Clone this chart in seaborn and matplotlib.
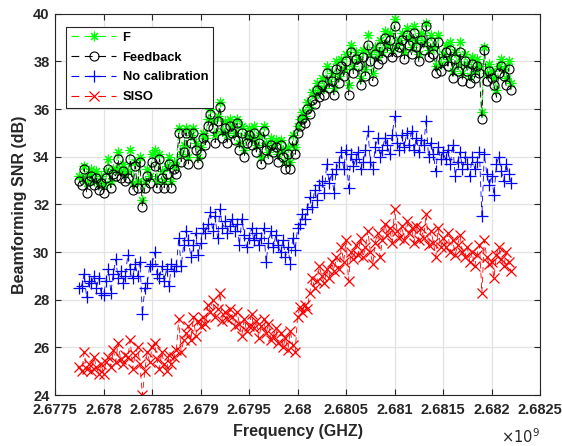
import numpy as np
import pandas as pd
import matplotlib
matplotlib.use("Agg")
import matplotlib.pyplot as plt
from matplotlib.ticker import FuncFormatter
from matplotlib.lines import Line2D
import seaborn as sns

# Frequency grid (Hz): 179 samples, 25 kHz spacing
freq = np.linspace(2.67775e9, 2.6822e9, 179)

f_series = [
    33.2, 33.1, 33.6, 32.9, 33.3, 33.5, 33.0, 33.4, 32.9, 33.2,
    32.8, 33.4, 33.9, 33.0, 33.5, 33.5, 34.2, 33.4, 33.7, 33.3,
    33.4, 34.3, 32.9, 33.8, 33.0, 34.0, 32.2, 33.0, 33.5, 33.2,
    34.1, 34.3, 33.0, 34.1, 33.4, 33.0, 33.6, 34.0, 33.0, 33.8,
    33.6, 35.2, 34.1, 34.5, 35.2, 34.0, 34.9, 35.2, 34.6, 34.0,
    34.4, 35.0, 34.8, 35.6, 36.0, 35.5, 34.9, 35.7, 36.3, 35.1,
    35.5, 34.9, 35.6, 35.3, 35.0, 35.6, 34.6, 35.3, 34.3, 34.9,
    35.2, 34.8, 35.3, 34.5, 34.9, 34.0, 35.3, 34.6, 34.2, 34.8,
    34.5, 34.7, 34.1, 34.7, 34.3, 33.8, 34.4, 33.8, 34.9, 34.4,
    35.3, 35.6, 35.9, 35.7, 36.3, 36.1, 36.7, 36.6, 37.1, 36.8,
    37.3, 36.9, 37.8, 37.2, 37.5, 36.9, 38.0, 37.4, 38.1, 37.7,
    38.3, 37.0, 38.7, 37.8, 38.4, 38.1, 37.3, 38.5, 37.7, 39.1,
    38.3, 37.5, 38.6, 38.2, 38.9, 38.4, 39.3, 38.7, 39.2, 38.5,
    39.8, 38.7, 38.9, 39.2, 38.4, 39.4, 39.0, 38.6, 39.5, 38.9,
    38.3, 39.2, 38.8, 39.6, 38.5, 39.1, 38.6, 37.8, 39.1, 37.9,
    38.3, 38.7, 38.1, 38.8, 37.6, 38.4, 37.9, 38.8, 37.5, 38.3,
    37.9, 37.4, 38.2, 37.6, 38.1, 37.8, 35.9, 38.6, 37.5, 37.9,
    37.6, 37.3, 36.8, 37.8, 38.1, 37.7, 37.3, 38.0, 37.1,
]

feedback = [
    33.0, 32.8, 33.5, 32.5, 33.0, 33.2, 32.8, 33.1, 32.6, 32.9,
    32.5, 33.1, 33.5, 32.7, 33.3, 33.2, 33.9, 33.1, 33.4, 33.0,
    33.1, 33.9, 32.6, 33.6, 32.7, 33.8, 31.9, 32.7, 33.2, 32.9,
    33.8, 33.6, 32.7, 33.9, 33.1, 32.7, 33.3, 33.7, 32.7, 33.5,
    33.3, 35.0, 33.8, 34.2, 35.0, 33.7, 34.6, 35.0, 34.3, 33.7,
    34.1, 34.8, 34.5, 35.3, 35.8, 35.2, 34.6, 35.5, 36.1, 34.8,
    35.2, 34.6, 35.3, 35.0, 34.7, 35.4, 34.3, 35.0, 34.0, 34.6,
    34.9, 34.5, 35.0, 34.2, 34.6, 33.7, 35.1, 34.3, 33.9, 34.5,
    34.2, 34.4, 33.8, 34.5, 34.0, 33.5, 34.1, 33.5, 34.7, 34.1,
    35.0, 35.3, 35.6, 35.4, 36.0, 35.8, 36.4, 36.2, 36.8, 36.5,
    37.0, 36.6, 37.5, 36.9, 37.2, 36.6, 37.7, 37.1, 37.8, 37.4,
    38.0, 36.6, 38.4, 37.5, 38.1, 37.8, 37.0, 38.2, 37.4, 38.7,
    38.0, 37.2, 38.3, 37.9, 38.6, 38.1, 39.0, 38.4, 38.9, 38.2,
    39.5, 38.4, 38.6, 38.9, 38.1, 39.1, 38.7, 38.3, 39.2, 38.6,
    38.0, 38.9, 38.5, 39.5, 38.2, 38.8, 38.3, 37.5, 38.8, 37.6,
    38.0, 38.4, 37.8, 38.5, 37.3, 38.1, 37.6, 38.4, 37.2, 38.0,
    37.6, 37.1, 37.9, 37.3, 37.8, 37.5, 35.6, 38.5, 37.2, 37.6,
    37.3, 37.0, 36.5, 37.5, 37.8, 37.4, 37.0, 37.7, 36.8,
]

no_calibration = [
    28.5, 28.6, 29.1, 28.1, 28.8, 28.7, 29.0, 28.5, 28.9, 28.3,
    28.2, 28.8, 29.3, 28.3, 29.1, 29.7, 28.9, 29.2, 28.7, 29.0,
    29.9, 29.3, 28.9, 29.5, 29.0, 29.6, 27.4, 28.5, 28.7, 29.4,
    29.5, 30.0, 29.1, 28.9, 29.4, 28.8, 29.3, 28.6, 29.5, 29.2,
    29.4, 30.6, 29.4, 30.3, 30.9, 30.5, 29.8, 30.3, 30.8, 29.9,
    30.4, 31.0, 30.8, 31.2, 31.7, 30.9, 31.5, 30.6, 31.8, 31.0,
    31.3, 30.8, 31.1, 31.4, 30.9, 31.2, 30.3, 31.4, 30.7, 30.2,
    30.6, 31.0, 30.5, 30.8, 30.3, 30.6, 31.0, 29.6, 30.4, 30.9,
    30.2, 30.7, 30.3, 30.0, 30.5, 29.8, 30.2, 29.5, 30.6, 30.1,
    31.0, 31.2, 31.6, 31.4, 31.8, 32.3, 31.9, 32.6, 32.2, 32.8,
    33.0, 32.5, 33.7, 32.9, 33.3, 32.5, 33.5, 33.8, 34.2, 33.5,
    34.3, 32.7, 34.1, 33.6, 33.9, 34.2, 33.5, 33.8, 34.3, 35.1,
    33.8, 33.5, 34.4, 34.8, 34.0, 34.3, 34.8, 34.5, 34.1, 34.9,
    35.7, 34.6, 34.3, 34.9, 34.4, 35.0, 34.5, 35.1, 34.3, 34.8,
    34.2, 34.7, 34.5, 35.5, 34.0, 34.6, 34.1, 33.4, 34.4, 33.9,
    34.2, 33.9, 34.3, 33.7, 34.5, 33.2, 33.8, 34.2, 33.5, 34.0,
    33.7, 33.2, 34.0, 33.5, 33.8, 34.2, 31.5, 34.1, 33.3, 32.8,
    33.2, 32.4, 33.7, 34.0, 33.4, 33.0, 33.7, 33.3, 32.9,
]

siso = [
    25.2, 25.0, 25.8, 25.1, 25.3, 25.0, 25.6, 25.2, 24.9, 25.3,
    24.9, 25.4, 25.6, 25.2, 25.9, 25.4, 26.2, 25.5, 25.3, 25.7,
    25.6, 26.3, 25.1, 25.7, 26.0, 25.3, 24.0, 25.0, 25.8, 25.4,
    26.0, 26.2, 25.5, 25.1, 25.8, 25.3, 25.0, 25.7, 25.3, 25.6,
    25.9, 27.2, 25.8, 26.3, 26.6, 26.9, 26.3, 27.3, 26.5, 27.1,
    26.9, 27.3, 27.0, 27.8, 27.5, 28.0, 27.3, 27.6, 28.3, 27.1,
    27.5, 27.2, 27.6, 27.3, 26.9, 27.5, 27.0, 26.5, 27.2, 26.7,
    26.9, 27.4, 26.8, 27.1, 26.4, 26.9, 27.2, 26.6, 27.0, 26.3,
    26.5, 26.8, 26.2, 26.6, 26.0, 26.4, 25.9, 26.7, 26.1, 25.8,
    27.3, 27.7, 27.5, 27.8, 27.6, 28.3, 28.9, 28.5, 28.8, 29.4,
    29.0, 28.7, 29.3, 28.9, 29.6, 29.2, 29.8, 29.3, 30.2, 29.6,
    30.5, 28.8, 30.0, 29.7, 30.3, 29.9, 30.6, 29.8, 30.2, 30.9,
    30.0, 29.5, 30.4, 30.8, 29.8, 30.5, 31.2, 30.7, 31.0, 30.4,
    31.8, 30.9, 30.6, 31.1, 30.5, 31.3, 30.8, 31.0, 30.4, 31.1,
    30.5, 31.0, 30.6, 31.6, 30.3, 30.9, 30.4, 29.8, 31.0, 30.2,
    30.6, 30.2, 30.8, 30.0, 30.5, 29.9, 30.3, 30.7, 30.0, 29.8,
    30.2, 29.6, 30.0, 29.4, 29.9, 30.3, 28.3, 30.5, 29.8, 29.5,
    29.6, 28.9, 29.9, 30.2, 29.7, 29.4, 30.0, 29.6, 29.2,
]

labels = ["F", "Feedback", "No calibration", "SISO"]
x_ticks = [2.6775e9, 2.678e9, 2.6785e9, 2.679e9, 2.6795e9, 2.68e9,
           2.6805e9, 2.681e9, 2.6815e9, 2.682e9, 2.6825e9]
y_ticks = [24, 26, 28, 30, 32, 34, 36, 38, 40]

sns.set_theme(style="whitegrid")
plt.rcParams['font.family'] = ['Liberation Sans', 'DejaVu Sans']

fig = plt.figure(figsize=(5.62, 4.46), dpi=100)
ax = fig.add_axes([0.098, 0.114, 0.863, 0.855])

colors = [(0, 1, 0), (0, 0, 0), (0, 0, 1), (1, 0, 0)]
styles = [
    dict(marker=(8, 2, 0), markersize=7, markeredgewidth=0.8),
    dict(marker="o", markersize=6.5, markeredgewidth=0.8, markerfacecolor="none"),
    dict(marker="+", markersize=8, markeredgewidth=0.9),
    dict(marker="x", markersize=6.5, markeredgewidth=0.9),
]
DASH = (7, 5)
handles = []
for vals, lab, col, st in zip([f_series, feedback, no_calibration, siso], labels, colors, styles):
    df = pd.DataFrame({"freq": freq, "snr": vals})
    sns.lineplot(data=df, x="freq", y="snr", ax=ax, color=col,
                 linewidth=0.6, estimator=None, sort=False,
                 markeredgecolor=col, **st)
    ln = ax.get_lines()[-1]
    ln.set_dashes(DASH)
    handles.append(Line2D([], [], color=col, linewidth=0.8, dashes=(7, 5),
                          markeredgecolor=col, **st))

ax.set_xlim(2.6775e9, 2.6825e9)
ax.set_ylim(24, 40)
ax.set_xticks(x_ticks)
ax.set_yticks(y_ticks)
ax.xaxis.set_major_formatter(FuncFormatter(lambda v, p: "{:g}".format(round(v / 1e9, 5))))
ax.yaxis.set_major_formatter(FuncFormatter(lambda v, p: "{:g}".format(v)))

ax.set_facecolor("white")
ax.grid(True, color="#e3e3e3", linewidth=0.9)
for sp in ax.spines.values():
    sp.set_color("#262626")
    sp.set_linewidth(0.8)
ax.tick_params(axis="both", which="both", direction="in", length=4, width=0.8,
               color="#262626", top=True, right=True, bottom=True, left=True,
               labelsize=10.5, pad=4)
ax.tick_params(axis="x", pad=6)
for t in ax.get_xticklabels() + ax.get_yticklabels():
    t.set_fontweight("bold")
    t.set_color("#262626")

ax.set_xlabel("Frequency (GHZ)", fontsize=11.5, fontweight="bold", color="#262626", labelpad=5)
ax.set_ylabel("Beamforming SNR (dB)", fontsize=11.5, fontweight="bold", color="#262626", labelpad=4)
ax.text(1.0, -0.085, r"$\times10^{9}$", transform=ax.transAxes, ha="right", va="top",
        fontsize=10.5, color="#262626")

leg = ax.legend(handles, labels, loc="upper left", frameon=True, fancybox=False, framealpha=1,
                edgecolor="#262626", handlelength=3.5, numpoints=1,
                borderpad=0.35, labelspacing=0.6, handletextpad=0.5,
                bbox_to_anchor=(0.01, 0.982), prop={"weight": "bold", "size": 9.3})
leg.get_frame().set_linewidth(0.8)
for t in leg.get_texts():
    t.set_color("black")

fig.savefig("out.png", dpi=100)
